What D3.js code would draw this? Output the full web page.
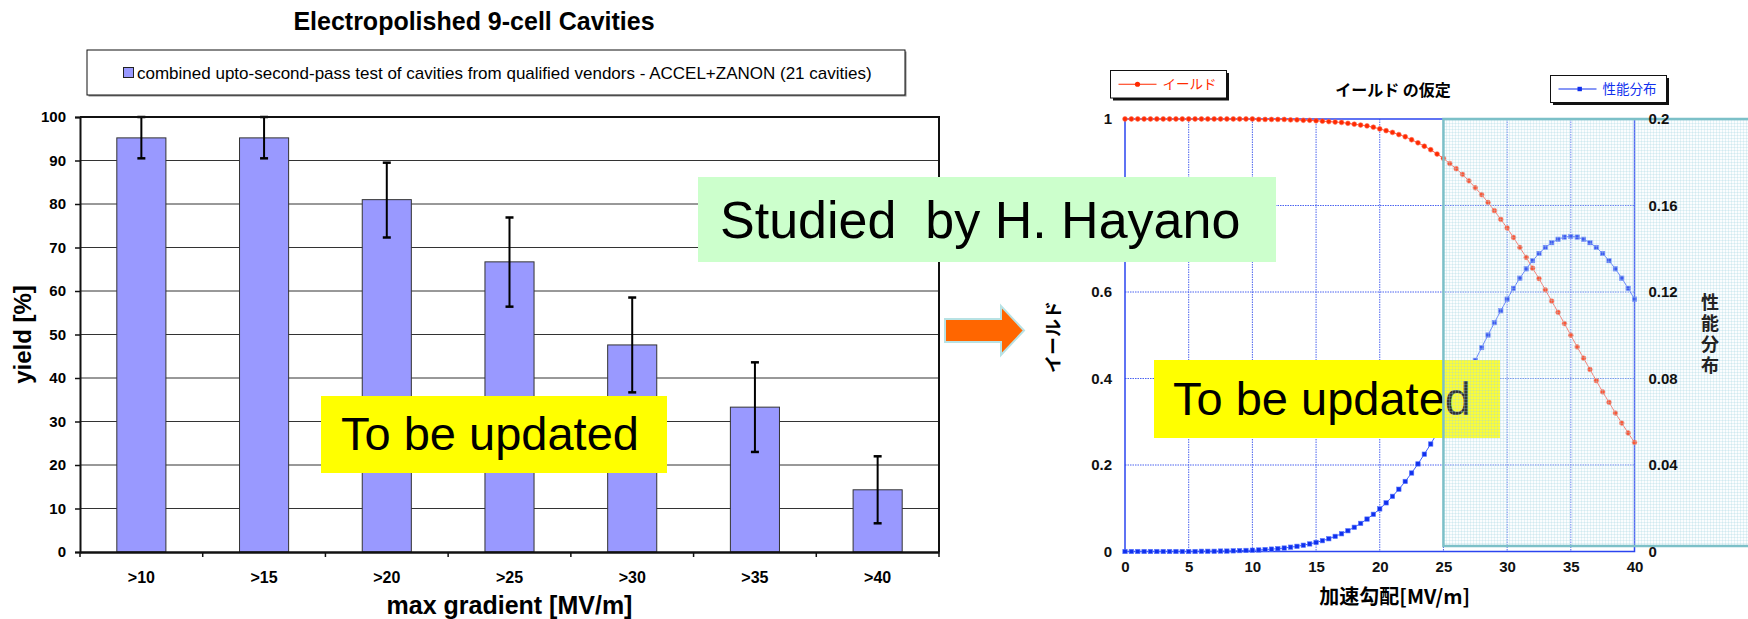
<!DOCTYPE html>
<html>
<head>
<meta charset="utf-8">
<script src="https://cdn.jsdelivr.net/npm/d3@7"></script>
<style>
  body { margin: 0; background: #fff; }
  svg { display: block; font-family: "Liberation Sans", Arial, sans-serif; }
  .jp { font-family: "Noto Sans CJK JP", "Liberation Sans", sans-serif; }
  .pre { white-space: pre; }
  .vert { writing-mode: vertical-rl; text-orientation: upright; }
</style>
</head>
<body>
<svg id="chart" width="1748" height="619"></svg>
<script>
// --- left chart : yield per gradient threshold ---
const gradCats = [">10", ">15", ">20", ">25", ">30", ">35", ">40"];
const yieldPct = [95.2, 95.2, 81.0, 66.7, 47.6, 33.3, 14.3];
const errLow = [90.5, 90.5, 72.3, 56.4, 36.7, 23.0, 6.6];
const errHigh = [100, 100, 89.5, 76.9, 58.5, 43.6, 22.0];
const pctTicks = [0, 10, 20, 30, 40, 50, 60, 70, 80, 90, 100];

// --- right chart : assumed yield / performance distribution ---
const gradStep = d3.range(0, 40.5, 0.5); // 0, 0.5 ... 40 MV/m
const yieldCurve = [
  1, 1, 1, 1, 1, 1, 1, 1, 1, 1,
  1, 1, 1, 1, 1, 1, 1, 1, 1, 1,
  1.000, 0.999, 0.999, 0.999, 0.999, 0.999, 0.998, 0.998, 0.997, 0.997,
  0.996, 0.995, 0.994, 0.993, 0.992, 0.990, 0.988, 0.986, 0.984, 0.981,
  0.977, 0.973, 0.969, 0.964, 0.959, 0.952, 0.945, 0.937, 0.929, 0.919,
  0.909, 0.897, 0.885, 0.872, 0.857, 0.841, 0.825, 0.807, 0.788, 0.768,
  0.748, 0.726, 0.703, 0.680, 0.655, 0.631, 0.605, 0.579, 0.553, 0.527,
  0.500, 0.473, 0.447, 0.421, 0.395, 0.369, 0.345, 0.320, 0.297, 0.274,
  0.252
];
const perfDist = [
  0, 0, 0, 0, 0, 0, 0, 0, 0, 0,
  0, 0, 0.0001, 0.0001, 0.0001, 0.0002, 0.0002, 0.0003, 0.0004, 0.0005,
  0.0006, 0.0007, 0.0009, 0.0011, 0.0013, 0.0016, 0.0020, 0.0024, 0.0029, 0.0035,
  0.0042, 0.0050, 0.0059, 0.0070, 0.0082, 0.0096, 0.0112, 0.0130, 0.0150, 0.0172,
  0.0197, 0.0225, 0.0255, 0.0288, 0.0324, 0.0363, 0.0405, 0.0450, 0.0497, 0.0547,
  0.0599, 0.0653, 0.0709, 0.0767, 0.0825, 0.0884, 0.0943, 0.1001, 0.1058, 0.1113,
  0.1167, 0.1217, 0.1264, 0.1307, 0.1345, 0.1378, 0.1406, 0.1428, 0.1444, 0.1454,
  0.1457, 0.1454, 0.1444, 0.1428, 0.1406, 0.1378, 0.1345, 0.1307, 0.1264, 0.1217,
  0.1167
];
const gradTicks = [0, 5, 10, 15, 20, 25, 30, 35, 40];
const yieldTicks = [0, 0.2, 0.4, 0.6, 0.8, 1];
const distTicks = [0, 0.04, 0.08, 0.12, 0.16, 0.2];

const svg = d3.select("#chart");

// defs : fine hatch for the highlighted zone
const defs = svg.append("defs");
const pat = defs.append("pattern").attr("id", "hatch")
  .attr("width", 3).attr("height", 3).attr("patternUnits", "userSpaceOnUse");
pat.append("rect").attr("width", 3).attr("height", 3).attr("fill", "rgba(236,248,250,0.22)");
pat.append("path").attr("d", "M0 0.5H3M0.5 0V3")
  .attr("stroke", "rgba(160,212,224,0.26)").attr("stroke-width", 1);

// ================= LEFT CHART =================
const L = { left: 80, right: 939, top: 117, bottom: 552 };

const xB = d3.scaleBand().domain(gradCats)
  .range([L.left, L.right]).paddingInner(0.6).paddingOuter(0.3);
const yP = d3.scaleLinear().domain([0, 100]).range([L.bottom, L.top]);

svg.append("text")
  .attr("x", 474).attr("y", 30)
  .attr("text-anchor", "middle")
  .attr("font-size", 25).attr("font-weight", "bold")
  .text("Electropolished 9-cell Cavities");

// legend
svg.append("rect").attr("x", 88.5).attr("y", 51.5).attr("width", 818).attr("height", 45).attr("fill", "#888");
svg.append("rect").attr("x", 87).attr("y", 50).attr("width", 818).attr("height", 45)
  .attr("fill", "#fff").attr("stroke", "#111").attr("stroke-width", 1);
svg.append("rect").attr("x", 123.5).attr("y", 67.5).attr("width", 10).attr("height", 10)
  .attr("fill", "#9999ff").attr("stroke", "#222");
svg.append("text").attr("x", 137).attr("y", 78.5)
  .attr("font-size", 17)
  .text("combined upto-second-pass test of cavities from qualified vendors - ACCEL+ZANON (21 cavities)");

// gridlines
svg.append("g").selectAll("line")
  .data(pctTicks.filter(d => d > 0 && d < 100))
  .join("line")
  .attr("x1", L.left).attr("x2", L.right)
  .attr("y1", d => yP(d)).attr("y2", d => yP(d))
  .attr("stroke", "#333").attr("stroke-width", 1);

// bars
svg.append("g").selectAll("rect")
  .data(gradCats)
  .join("rect")
  .attr("x", d => xB(d))
  .attr("y", (d, i) => yP(yieldPct[i]))
  .attr("width", xB.bandwidth())
  .attr("height", (d, i) => yP(0) - yP(yieldPct[i]))
  .attr("fill", "#9999ff")
  .attr("stroke", "#333").attr("stroke-width", 1);

// error bars
const eb = svg.append("g").attr("stroke", "#000");
gradCats.forEach((c, i) => {
  const cx = xB(c) + xB.bandwidth() / 2;
  eb.append("line").attr("x1", cx).attr("x2", cx)
    .attr("y1", yP(errHigh[i])).attr("y2", yP(errLow[i])).attr("stroke-width", 2);
  [errHigh[i], errLow[i]].forEach(v => {
    eb.append("line").attr("x1", cx - 4).attr("x2", cx + 4)
      .attr("y1", yP(v)).attr("y2", yP(v)).attr("stroke-width", 2.5);
  });
});

// frame (top / right) + axes
svg.append("path")
  .attr("d", `M${L.left},${L.top}H${L.right}V${L.bottom}`)
  .attr("fill", "none").attr("stroke", "#111").attr("stroke-width", 2);

const yAxL = svg.append("g").attr("transform", `translate(${L.left},0)`)
  .call(d3.axisLeft(yP).tickValues(pctTicks).tickSize(5).tickPadding(9));
yAxL.select(".domain").attr("stroke", "#111").attr("stroke-width", 2);
yAxL.selectAll(".tick line").attr("stroke", "#111").attr("stroke-width", 1.5);
yAxL.selectAll("text").attr("font-size", 15).attr("font-weight", "bold")
  .attr("font-family", "Liberation Sans, Arial, sans-serif").attr("fill", "#000");

const xAxL = svg.append("g").attr("transform", `translate(0,${L.bottom})`)
  .call(d3.axisBottom(xB).tickSize(0).tickPadding(20));
xAxL.select(".domain").attr("stroke", "#111").attr("stroke-width", 2.5);
xAxL.selectAll("text").attr("font-size", 16).attr("font-weight", "bold")
  .attr("font-family", "Liberation Sans, Arial, sans-serif").attr("fill", "#000");

// tick marks between categories
svg.append("g").selectAll("line")
  .data(d3.range(gradCats.length + 1))
  .join("line")
  .attr("x1", i => L.left + i * xB.step()).attr("x2", i => L.left + i * xB.step())
  .attr("y1", L.bottom).attr("y2", L.bottom + 5)
  .attr("stroke", "#111").attr("stroke-width", 1.5);

svg.append("text")
  .attr("x", (L.left + L.right) / 2).attr("y", 614)
  .attr("text-anchor", "middle")
  .attr("font-size", 25).attr("font-weight", "bold")
  .text("max gradient [MV/m]");

svg.append("text")
  .attr("transform", `translate(31,${(L.top + L.bottom) / 2}) rotate(-90)`)
  .attr("text-anchor", "middle")
  .attr("font-size", 24).attr("font-weight", "bold")
  .text("yield [%]");

// ================= RIGHT CHART =================
const R = { left: 1125, right: 1634.5, top: 119, bottom: 551.5 };
const blue = "#2b45f0";

const xR = d3.scaleLinear().domain([0, 40]).range([R.left, R.right]);
const yL = d3.scaleLinear().domain([0, 1]).range([R.bottom, R.top]);
const yR = d3.scaleLinear().domain([0, 0.2]).range([R.bottom, R.top]);

// dotted grid
const grid = svg.append("g")
  .attr("stroke", "#4a63f0").attr("stroke-width", 1).attr("stroke-dasharray", "1.5,1");
grid.selectAll(".gx")
  .data(gradTicks.filter(d => d > 0 && d < 40))
  .join("line")
  .attr("x1", d => xR(d)).attr("x2", d => xR(d))
  .attr("y1", R.top).attr("y2", R.bottom);
grid.selectAll(".gy")
  .data(yieldTicks.filter(d => d > 0 && d < 1))
  .join("line")
  .attr("x1", R.left).attr("x2", R.right)
  .attr("y1", d => yL(d)).attr("y2", d => yL(d));

svg.append("rect")
  .attr("x", R.left).attr("y", R.top)
  .attr("width", R.right - R.left).attr("height", R.bottom - R.top)
  .attr("fill", "none").attr("stroke", blue).attr("stroke-width", 1.5);

const tickFont = g => g.selectAll("text")
  .attr("font-size", 15).attr("font-weight", "bold")
  .attr("font-family", "Liberation Sans, Arial, sans-serif").attr("fill", "#111");

const axL = svg.append("g").attr("transform", `translate(${R.left},0)`)
  .call(d3.axisLeft(yL).tickValues(yieldTicks).tickFormat(d => String(d)).tickSize(0).tickPadding(13));
axL.select(".domain").remove();
tickFont(axL);

const axB = svg.append("g").attr("transform", `translate(0,${R.bottom})`)
  .call(d3.axisBottom(xR).tickValues(gradTicks).tickSize(0).tickPadding(10));
axB.select(".domain").remove();
tickFont(axB);

// series lines
const redLine = d3.line().x((d, i) => xR(gradStep[i])).y(d => yL(d));
const blueLine = d3.line().x((d, i) => xR(gradStep[i])).y(d => yR(d));

svg.append("path").datum(yieldCurve).attr("d", redLine)
  .attr("fill", "none").attr("stroke", "#ff5a48").attr("stroke-width", 1);
svg.append("g").selectAll("circle")
  .data(yieldCurve).join("circle")
  .attr("cx", (d, i) => xR(gradStep[i])).attr("cy", d => yL(d))
  .attr("r", 2.4).attr("fill", "#ff2a00").attr("stroke", "#ff6a50").attr("stroke-width", 0.6);

svg.append("path").datum(perfDist).attr("d", blueLine)
  .attr("fill", "none").attr("stroke", "#3a5cff").attr("stroke-width", 1);
svg.append("g").selectAll("rect")
  .data(perfDist).join("rect")
  .attr("x", (d, i) => xR(gradStep[i]) - 2.2).attr("y", d => yR(d) - 2.2)
  .attr("width", 4.4).attr("height", 4.4)
  .attr("fill", "#1030ee").attr("stroke", "#5a78ff").attr("stroke-width", 0.6);

// title + legends
svg.append("text").attr("class", "jp")
  .attr("x", 1393).attr("y", 96).attr("text-anchor", "middle")
  .attr("font-size", 16).attr("font-weight", "bold")
  .text("イールド の仮定");

function legendBox(x, y, w, h, color, label, marker) {
  svg.append("rect").attr("x", x + 2.5).attr("y", y + 2.5).attr("width", w).attr("height", h).attr("fill", "#111");
  svg.append("rect").attr("x", x).attr("y", y).attr("width", w).attr("height", h)
    .attr("fill", "#fff").attr("stroke", "#111").attr("stroke-width", 1);
  const my = y + h / 2;
  svg.append("line").attr("x1", x + 8).attr("x2", x + 46).attr("y1", my).attr("y2", my)
    .attr("stroke", color).attr("stroke-width", 1.2);
  if (marker === "circle") {
    svg.append("circle").attr("cx", x + 27).attr("cy", my).attr("r", 2.6).attr("fill", color);
  } else {
    svg.append("rect").attr("x", x + 27).attr("y", my - 2.2).attr("width", 4.4).attr("height", 4.4).attr("fill", color);
  }
  svg.append("text").attr("class", "jp")
    .attr("x", x + 52).attr("y", my + 5)
    .attr("font-size", 13.5).attr("fill", color)
    .text(label);
}
legendBox(1110.5, 70.5, 116, 27.5, "#ff2a00", "イールド", "circle");
legendBox(1550.5, 75.5, 116, 27, "#1030ee", "性能分布", "square");

// axis titles
svg.append("text").attr("class", "jp")
  .attr("x", (R.left + R.right) / 2 + 15).attr("y", 604)
  .attr("text-anchor", "middle")
  .attr("font-size", 20).attr("font-weight", "bold")
  .text("加速勾配[MV/m]");

svg.append("text").attr("class", "jp")
  .attr("transform", `translate(1060,337) rotate(-90)`)
  .attr("text-anchor", "middle")
  .attr("font-size", 18).attr("font-weight", "bold")
  .text("イールド");

// ================= OVERLAYS =================
function note(x, y, w, h, fill, label, size, tx, ty) {
  svg.append("rect").attr("x", x).attr("y", y).attr("width", w).attr("height", h).attr("fill", fill);
  svg.append("text").attr("class", "pre").attr("x", tx).attr("y", ty)
    .attr("font-size", size).attr("fill", "#000")
    .text(label);
}
note(321, 396, 346, 77, "#ffff00", "To be updated", 47, 341, 450);
note(1154, 360, 346, 78, "#ffff00", "To be updated", 47, 1173, 415);
note(698, 177, 578, 85, "#ccffcc", "Studied  by H. Hayano", 52, 720, 238);

// highlighted zone > 25 MV/m
svg.append("rect")
  .attr("x", xR(25)).attr("y", R.top)
  .attr("width", 1760 - xR(25)).attr("height", 546 - R.top)
  .attr("fill", "url(#hatch)")
  .attr("stroke", "#7cc0c8").attr("stroke-width", 2.5);

// right axis labels stay on top of the zone
const axR = svg.append("g").attr("transform", `translate(${R.right},0)`)
  .call(d3.axisRight(yR).tickValues(distTicks).tickFormat(d => String(d)).tickSize(0).tickPadding(14));
axR.select(".domain").remove();
tickFont(axR);

// right axis title, written vertically
svg.append("text").attr("class", "jp vert")
  .attr("x", 1710).attr("y", (R.top + R.bottom) / 2)
  .attr("text-anchor", "middle")
  .attr("letter-spacing", 3)
  .attr("font-size", 18).attr("font-weight", "bold").attr("fill", "#222")
  .text("性能分布");

// arrow
svg.append("path")
  .attr("d", "M945,319H1001V306L1024,330.5L1001,355V342H945Z")
  .attr("fill", "#ff6600").attr("stroke", "#b8e2e4").attr("stroke-width", 2);
</script>
</body>
</html>
